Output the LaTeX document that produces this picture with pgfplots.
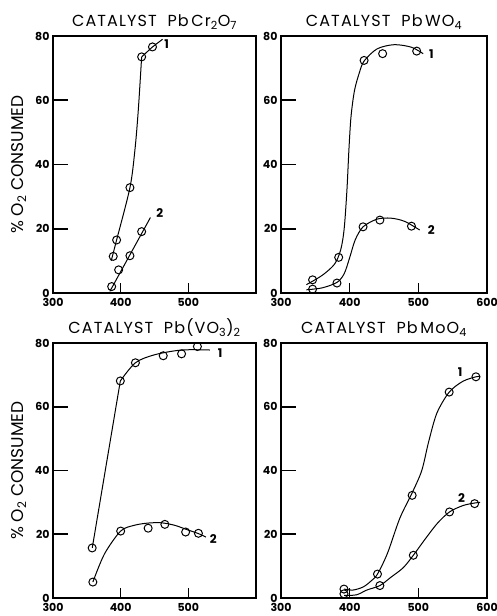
\documentclass[border=0pt]{standalone}
\usepackage{fontspec}
\setmainfont{Poppins}
\newfontfamily\titlefont[LetterSpace=7]{Poppins}
\usepackage{pgfplots}
\pgfplotsset{compat=1.18}
\tikzset{lab/.style={font=\bfseries\fontsize{12}{12}\selectfont}}
\newcommand\panelticks{%
  \draw[line width=1.6pt, black]
    (axis cs:300,20) -- (axis cs:322,20)
    (axis cs:300,40) -- (axis cs:322,40)
    (axis cs:300,60) -- (axis cs:322,60)
    (axis cs:400,0) -- (axis cs:400,3.2)
    (axis cs:500,0) -- (axis cs:500,3.2);}
\pgfplotsset{
  panel/.style={
    scale only axis, height=257pt,
    xmin=300, xmax=600, ymin=0, ymax=80,
    ytick={0,20,40,60,80},
    tick pos=left, tick align=inside,
    major tick length=0pt,
    tick style={draw=none},
    axis line style={line width=1.4pt},
    tick label style={font=\bfseries\fontsize{11}{12}\selectfont},
    xticklabel style={yshift=-2pt},
    title style={font=\titlefont\fontsize{16}{18}\selectfont, yshift=-3pt},
    ylabel style={font=\fontsize{17}{19}\selectfont},
    clip=false,
    /pgf/number format/assume math mode=true,
    scaled ticks=false,
  },
  dat/.style={only marks, mark=o, mark size=4pt, mark options={line width=1pt, black, fill=none}},
  cur/.style={smooth, tension=0.5, no marks, black, line width=1pt},
  seg/.style={sharp plot, no marks, black, line width=1pt},
}
\begin{document}
\begin{tikzpicture}
\useasboundingbox (0,0) rectangle (497pt,616pt);
% Panel 1: PbCr2O7
\begin{axis}[panel, width=203pt, at={(53pt,323pt)}, anchor=south west,
  xtick={300,400,500},
  title={CATALYST\ \ Pb\,Cr\textsubscript{2}O\textsubscript{7}},
  ylabel={\% O\textsubscript{2} CONSUMED},
  ylabel style={at={(axis description cs:-0.115,0.5)}}]
\panelticks
\addplot[cur] coordinates {(386,10) (394,16.5) (413.7,32.8) (421,44.4) (426,56.8) (431,73.5)};
\addplot[seg] coordinates {(431,73.5) (447,76.6) (462,79)};
\addplot[dat] coordinates {(389,11.4) (394,16.5) (413.7,32.8) (431,73.5) (447,76.6)};
\addplot[seg] coordinates {(384,0.5) (444,23.5)};
\addplot[dat] coordinates {(386.7,2) (397,7.2) (413.7,11.6) (431,19.1)};
\node[lab] at (axis cs:468,77.5) {1};
\node[lab] at (axis cs:458,25) {2};
\end{axis}
% Panel 2: PbWO4
\begin{axis}[panel, width=206pt, at={(281pt,323pt)}, anchor=south west,
  xtick={300,400,500,600},
  title={CATALYST\ \ Pb\,WO\textsubscript{4}}]
\panelticks
\addplot[cur] coordinates {(337,2.6) (360,5.5) (378,9) (387,13.5) (392,20) (396,32) (399,45) (402,55) (407,63) (414,68.5) (421,72.2) (440,76) (465,77.3) (490,76.5) (507,74.5)};
\addplot[dat] coordinates {(346,4.1) (384,11.1) (421,72.4) (448,74.5) (497.6,75.3)};
\addplot[cur] coordinates {(337,1) (360,1.6) (381.5,3.3) (392,6) (400,11) (408,16.5) (419.5,20.6) (440,23) (460,23.3) (480,22.3) (502,19.6)};
\addplot[dat] coordinates {(346,1.2) (381.5,3.1) (419.5,20.6) (444,22.7) (490,20.8)};
\node[lab] at (axis cs:519,74.3) {1};
\node[lab] at (axis cs:519,19.6) {2};
\end{axis}
% Panel 3: Pb(VO3)2
\begin{axis}[panel, width=203pt, at={(53pt,18pt)}, anchor=south west, height=255pt,
  xtick={300,400,500},
  title={CATALYST\ \ Pb(VO\textsubscript{3})\textsubscript{2}},
  ylabel={\% O\textsubscript{2} CONSUMED},
  ylabel style={at={(axis description cs:-0.115,0.5)}}]
\panelticks
\addplot[seg] coordinates {(358,15.7) (399.5,68.1)};
\addplot[cur] coordinates {(399.5,68.1) (421.8,73.8) (450,76.3) (490,77.8) (532,77.8)};
\addplot[dat] coordinates {(357.9,15.7) (399.5,68.1) (421.8,73.8) (462.9,76) (490,76.6) (513.4,78.9)};
\addplot[cur] coordinates {(358.9,5) (376,13.8) (400,21) (420,22.8) (440,23.5) (460,23.6) (480,22.8) (500,21.3) (515,20.2) (526,19.1)};
\addplot[dat] coordinates {(358.9,5) (400,21) (440.6,21.9) (465.3,23.1) (496,20.7) (514.9,20.3)};
\node[lab] at (axis cs:547,76.8) {1};
\node[lab] at (axis cs:537,18.5) {2};
\end{axis}
% Panel 4: PbMoO4
\begin{axis}[panel, width=206pt, at={(281pt,18pt)}, anchor=south west, height=255pt,
  xtick={300,400,500,600},
  title={CATALYST\ \ Pb\,MoO\textsubscript{4}}]
\panelticks
\addplot[cur] coordinates {(392,2.8) (405,2.5) (420,3.5) (432,5.5) (440.5,7.5) (455,14) (473,25) (491,33) (505,40) (515,49) (527,58) (545,64.6) (565,68) (584,69.4) (590,69.5)};
\addplot[dat] coordinates {(391.7,2.8) (440.5,7.5) (491,32.2) (544.9,64.6) (583.9,69.4)};
\addplot[cur] coordinates {(392,0.8) (410,1) (425,2.5) (444,3.9) (460,6.5) (478,9.5) (492.7,13.4) (510,18.5) (528,23.5) (545.4,27) (565,29) (582,29.8) (590,30)};
\addplot[dat] coordinates {(391.7,1.3) (444,3.9) (492.7,13.4) (545.4,27) (582,29.6)};
\node[lab] at (axis cs:561,71) {1};
\node[lab] at (axis cs:563,31.4) {2};
\end{axis}
\end{tikzpicture}
\end{document}
